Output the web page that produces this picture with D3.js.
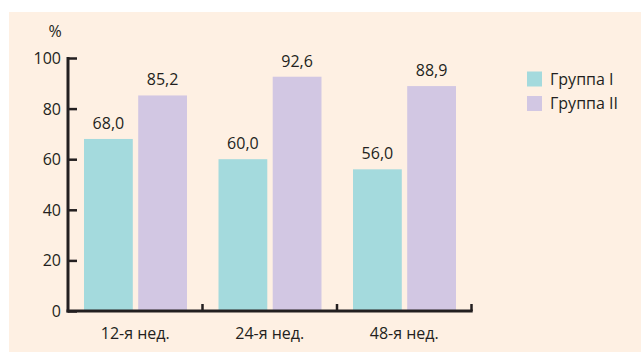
<!DOCTYPE html>
<html>
<head>
<meta charset="utf-8">
<script src="https://cdn.jsdelivr.net/npm/d3@7"></script>
<style>
  body { margin: 0; background: #fff; }
  svg { display: block; font-family: "Open Sans", sans-serif; }
</style>
</head>
<body>
<svg width="641" height="352"></svg>
<script>
// chart data
const weeks = ["12-я нед.", "24-я нед.", "48-я нед."];
const groups = ["Группа I", "Группа II"];
const group1 = [68.0, 60.0, 56.0];
const group2 = [85.2, 92.6, 88.9];
const yTicks = [0, 20, 40, 60, 80, 100];
const colors = ["#a4dadd", "#d2c7e3"];

const svg = d3.select("svg");

// panel background
svg.append("rect")
  .attr("x", 9).attr("y", 12)
  .attr("width", 632).attr("height", 340)
  .attr("fill", "#fef0e3");

const x = d3.scaleBand()
  .domain(weeks)
  .range([68, 471.5]);

const x1 = d3.scaleBand()
  .domain(groups)
  .range([16, 119])
  .paddingInner(0.1);

const y = d3.scaleLinear()
  .domain([0, 100])
  .range([311, 58]);

const rows = weeks.map((w, i) => ({ week: w, values: [group1[i], group2[i]] }));

const g = svg.append("g");

// bars
const grp = g.selectAll(".grp")
  .data(rows)
  .enter().append("g")
    .attr("class", "grp")
    .attr("transform", d => "translate(" + x(d.week) + ",0)");

grp.selectAll("rect")
  .data(d => d.values.map((v, j) => ({ key: groups[j], value: v, j: j })))
  .enter().append("rect")
    .attr("x", d => x1(d.key))
    .attr("y", d => y(d.value))
    .attr("width", x1.bandwidth())
    .attr("height", d => y(0) - y(d.value))
    .attr("fill", d => colors[d.j]);

// value labels
grp.selectAll("text")
  .data(d => d.values.map((v, j) => ({ key: groups[j], value: v })))
  .enter().append("text")
    .attr("x", d => x1(d.key) + x1.bandwidth() / 2)
    .attr("y", d => y(d.value) - 10)
    .attr("text-anchor", "middle")
    .attr("font-size", 16)
    .attr("fill", "#231f20")
    .text(d => d3.format(".1f")(d.value).replace(".", ","));

// y axis
const yAxis = g.append("g")
  .attr("transform", "translate(68,0)")
  .call(d3.axisRight(y).tickValues(yTicks).tickSize(9).tickFormat(""));
yAxis.select(".domain").remove();
yAxis.selectAll(".tick line").attr("stroke", "#231f20").attr("stroke-width", 2.5);

g.append("line")
  .attr("x1", 68).attr("x2", 68)
  .attr("y1", y(100) - 1).attr("y2", y(0) + 1.5)
  .attr("stroke", "#231f20").attr("stroke-width", 3);

g.selectAll(".ylab")
  .data(yTicks)
  .enter().append("text")
    .attr("class", "ylab")
    .attr("x", 61)
    .attr("y", d => y(d) + 6)
    .attr("text-anchor", "end")
    .attr("font-size", 16)
    .attr("fill", "#231f20")
    .text(d => d);

svg.append("text")
  .attr("x", 55).attr("y", 37)
  .attr("text-anchor", "middle")
  .attr("font-size", 16)
  .attr("fill", "#231f20")
  .text("%");

// x axis
const bounds = weeks.map(w => x(w)).concat([x.range()[1]]).slice(1);
g.selectAll(".xtick")
  .data(bounds)
  .enter().append("line")
    .attr("x1", d => d).attr("x2", d => d)
    .attr("y1", y(0)).attr("y2", y(0) - 7)
    .attr("stroke", "#231f20").attr("stroke-width", 2.5);

g.append("line")
  .attr("x1", 66.5).attr("x2", x.range()[1] + 1.2)
  .attr("y1", y(0)).attr("y2", y(0))
  .attr("stroke", "#231f20").attr("stroke-width", 3);

g.selectAll(".xlab")
  .data(weeks)
  .enter().append("text")
    .attr("class", "xlab")
    .attr("x", d => x(d) + x.bandwidth() / 2)
    .attr("y", 339)
    .attr("text-anchor", "middle")
    .attr("font-size", 16)
    .attr("fill", "#231f20")
    .text(d => d);

// legend
const legend = svg.selectAll(".legend")
  .data(groups)
  .enter().append("g")
    .attr("class", "legend")
    .attr("transform", (d, i) => "translate(527," + (71.5 + i * 24.5) + ")");

legend.append("rect")
  .attr("width", 15).attr("height", 15)
  .attr("fill", (d, i) => colors[i]);

legend.append("text")
  .attr("x", 23).attr("y", 13)
  .attr("font-size", 16)
  .attr("fill", "#231f20")
  .text(d => d);
</script>
</body>
</html>
